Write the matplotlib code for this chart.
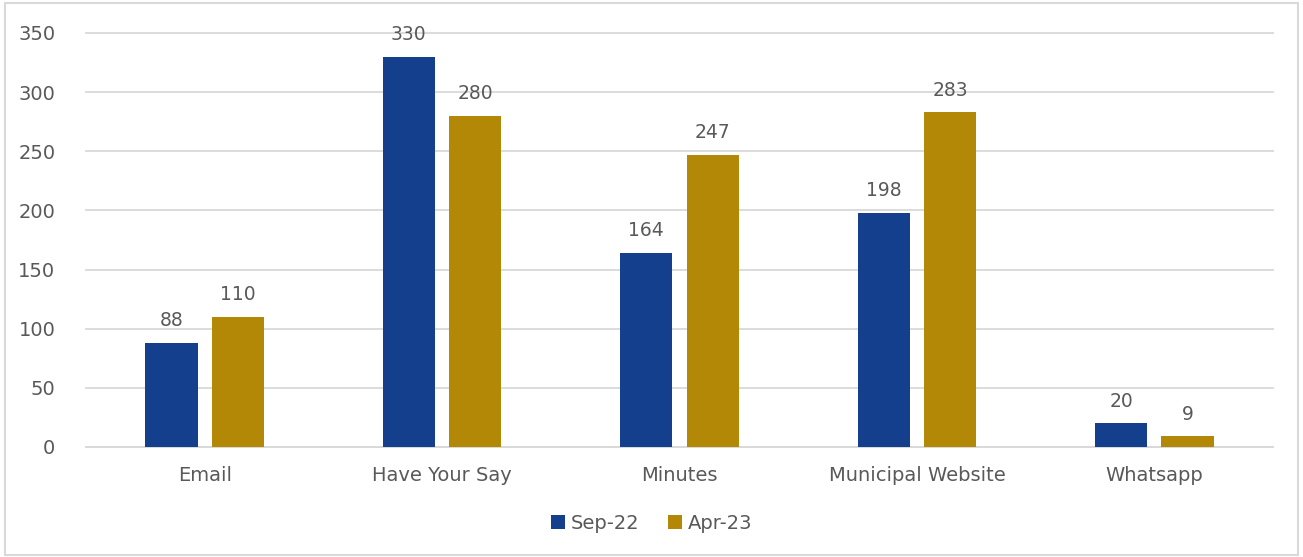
import numpy as np
import matplotlib.pyplot as plt
from matplotlib.patches import Rectangle

categories = ["Email", "Have Your Say", "Minutes", "Municipal Website", "Whatsapp"]
sep_22 = [88, 330, 164, 198, 20]
apr_23 = [110, 280, 247, 283, 9]
series_labels = ["Sep-22", "Apr-23"]

blue = "#133F8C"
gold = "#B38806"
text_col = "#595959"

plt.rcParams["font.family"] = ["DejaVu Sans"]

fig = plt.figure(figsize=(13.03, 5.57), dpi=100)
ax = fig.add_axes([0.066, 0.1975, 0.911, 0.7433])

x = np.arange(len(categories))
w = 0.22
b1 = ax.bar(x - 0.14, sep_22, w, color=blue, label=series_labels[0], zorder=3)
b2 = ax.bar(x + 0.14, apr_23, w, color=gold, label=series_labels[1], zorder=3)

for bars in (b1, b2):
    for rect in bars:
        h = rect.get_height()
        ax.annotate(f"{h:.0f}", (rect.get_x() + rect.get_width() / 2, h),
                    xytext=(0, 9), textcoords="offset points",
                    ha="center", va="bottom", fontsize=13.5, color=text_col,
                    annotation_clip=False)

ax.set_xlim(-0.5, len(categories) - 0.5)
ax.set_ylim(0, 350)
ax.set_yticks(range(0, 351, 50))
ax.set_xticks(x)
ax.set_xticklabels(categories)
ax.yaxis.grid(True, color="#D9D9D9", linewidth=1.3, zorder=0)
for gl in ax.get_ygridlines():
    gl.set_clip_on(False)
ax.set_axisbelow(True)
for s in ["top", "right", "left"]:
    ax.spines[s].set_visible(False)
ax.spines["bottom"].set_color("#D9D9D9")
ax.spines["bottom"].set_linewidth(1.3)
ax.tick_params(axis="both", length=0, labelsize=14, colors=text_col)
ax.tick_params(axis="y", pad=22)
ax.tick_params(axis="x", pad=14)

fig.legend(handles=[b1, b2], loc="center", bbox_to_anchor=(0.5, 0.06), ncol=2,
           frameon=False, fontsize=14, handlelength=0.7, handleheight=0.7,
           handletextpad=0.3, columnspacing=1.5, labelcolor=text_col)

fig.patches.append(Rectangle((0.004, 0.004), 0.992, 0.99, transform=fig.transFigure,
                             fill=False, edgecolor="#D9D9D9", linewidth=1.5))

fig.savefig("out.png", dpi=100)
